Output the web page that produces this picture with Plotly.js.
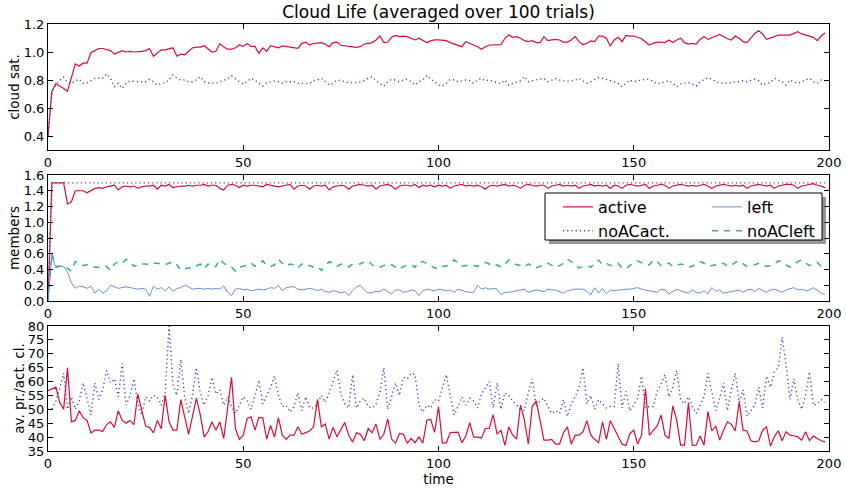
<!DOCTYPE html>
<html>
<head>
<meta charset="utf-8">
<script src="https://cdn.plot.ly/plotly-3.0.1.min.js"></script>
<style>html,body{margin:0;padding:0;background:#fff;}#chart{width:846px;height:489px;}</style>
</head>
<body>
<div id="chart"></div>
<script>
// ---- Data ----
const timeSteps = Array.from({length: 200}, (_, i) => i);

const cloudSatActive = [
0.40,0.72,0.775,0.76,0.74,0.72,0.82,0.915,0.90,0.92,
0.92,0.995,1.01,1.025,1.025,1.02,1.01,0.985,0.995,1.01,
1.00,1.005,1.00,1.00,1.005,1.01,1.025,0.97,0.995,1.015,
1.015,1.02,1.03,0.97,0.985,0.98,1.005,1.03,1.035,1.035,
1.045,1.02,1.00,1.005,1.06,1.035,1.02,1.02,1.03,1.05,
1.04,1.06,1.04,1.04,0.99,1.03,1.005,1.045,1.04,1.03,
1.043,1.038,1.036,1.031,1.026,1.062,1.071,1.05,1.062,1.064,
1.067,1.057,1.038,1.067,1.071,1.048,1.043,1.038,1.033,1.033,
1.038,1.057,1.062,1.067,1.086,1.114,1.067,1.071,1.105,1.119,
1.11,1.114,1.11,1.098,1.086,1.098,1.081,1.067,1.079,1.086,
1.086,1.086,1.081,1.067,1.057,1.048,1.038,1.074,1.062,1.052,
1.038,1.019,1.038,1.05,1.052,1.05,1.052,1.098,1.121,1.105,
1.11,1.098,1.081,1.074,1.081,1.067,1.067,1.11,1.081,1.086,
1.09,1.086,1.071,1.071,1.086,1.11,1.074,1.052,1.062,1.079,
1.074,1.114,1.114,1.098,1.043,1.086,1.105,1.074,1.119,1.114,
1.114,1.105,1.095,1.071,1.05,1.062,1.071,1.071,1.067,1.086,
1.067,1.086,1.098,1.067,1.057,1.062,1.057,1.09,1.11,1.09,
1.10,1.114,1.126,1.11,1.095,1.086,1.114,1.098,1.074,1.067,
1.098,1.133,1.152,1.129,1.09,1.098,1.11,1.121,1.121,1.121,
1.121,1.133,1.145,1.129,1.121,1.114,1.105,1.081,1.114,1.138];

const cloudSatNoAC = [
0.40,0.72,0.764,0.80,0.82,0.78,0.776,0.795,0.805,0.776,
0.78,0.795,0.812,0.812,0.812,0.843,0.812,0.752,0.776,0.74,
0.776,0.793,0.788,0.788,0.788,0.788,0.805,0.788,0.764,0.776,
0.78,0.80,0.836,0.812,0.80,0.80,0.788,0.788,0.80,0.824,
0.788,0.78,0.78,0.776,0.788,0.80,0.807,0.829,0.805,0.788,
0.771,0.788,0.812,0.80,0.776,0.757,0.78,0.788,0.793,0.788,
0.776,0.788,0.788,0.788,0.776,0.776,0.776,0.776,0.795,0.80,
0.812,0.788,0.764,0.776,0.80,0.795,0.788,0.781,0.781,0.781,
0.788,0.795,0.812,0.824,0.795,0.776,0.757,0.788,0.805,0.80,
0.788,0.80,0.805,0.788,0.764,0.788,0.80,0.833,0.805,0.788,
0.764,0.757,0.776,0.805,0.80,0.788,0.795,0.80,0.795,0.776,
0.80,0.812,0.795,0.80,0.788,0.781,0.776,0.80,0.764,0.776,
0.788,0.795,0.824,0.788,0.795,0.80,0.805,0.812,0.788,0.80,
0.81,0.80,0.795,0.79,0.795,0.80,0.812,0.797,0.776,0.788,
0.805,0.817,0.812,0.805,0.80,0.788,0.776,0.752,0.776,0.80,
0.788,0.795,0.80,0.805,0.805,0.788,0.771,0.781,0.788,0.795,
0.776,0.752,0.771,0.776,0.781,0.771,0.757,0.788,0.805,0.817,
0.805,0.788,0.776,0.781,0.776,0.781,0.788,0.788,0.795,0.788,
0.795,0.805,0.795,0.764,0.776,0.781,0.812,0.80,0.788,0.764,
0.80,0.788,0.776,0.788,0.80,0.812,0.788,0.776,0.80,0.795];

const membersActive = [
0,1.5,1.5,1.5,1.5,1.23,1.26,1.40,1.40,1.40,
1.375,1.40,1.43,1.44,1.43,1.45,1.46,1.47,1.41,1.45,
1.46,1.45,1.46,1.43,1.45,1.46,1.46,1.47,1.42,1.47,
1.46,1.48,1.44,1.45,1.46,1.46,1.47,1.46,1.47,1.47,
1.48,1.46,1.47,1.47,1.43,1.41,1.47,1.48,1.47,1.44,
1.47,1.46,1.47,1.47,1.46,1.45,1.48,1.47,1.46,1.45,
1.46,1.47,1.48,1.42,1.46,1.47,1.46,1.42,1.46,1.47,
1.46,1.47,1.41,1.45,1.46,1.47,1.46,1.42,1.46,1.47,
1.48,1.47,1.46,1.47,1.42,1.46,1.47,1.48,1.46,1.42,
1.46,1.47,1.47,1.46,1.48,1.44,1.47,1.46,1.47,1.45,
1.47,1.46,1.47,1.43,1.46,1.47,1.48,1.46,1.47,1.46,
1.47,1.45,1.42,1.46,1.47,1.46,1.47,1.48,1.46,1.47,
1.46,1.43,1.47,1.48,1.47,1.46,1.47,1.47,1.43,1.46,
1.47,1.48,1.46,1.47,1.46,1.47,1.43,1.46,1.47,1.48,
1.46,1.47,1.46,1.47,1.43,1.47,1.46,1.43,1.47,1.48,
1.47,1.46,1.47,1.48,1.43,1.46,1.47,1.48,1.47,1.43,
1.46,1.47,1.48,1.47,1.46,1.47,1.46,1.47,1.48,1.46,
1.43,1.46,1.47,1.48,1.47,1.46,1.47,1.46,1.47,1.43,
1.46,1.47,1.48,1.47,1.46,1.47,1.43,1.46,1.47,1.48,
1.48,1.47,1.43,1.46,1.47,1.48,1.49,1.47,1.46,1.44];

const membersNoACact = [
0,1.5,1.5,1.5,1.5,1.5,1.5,1.5,1.5,1.5,1.5,1.5,1.5,1.5,1.5,1.5,1.5,1.5,1.5,1.5,
1.5,1.5,1.5,1.5,1.5,1.5,1.5,1.5,1.5,1.5,1.5,1.5,1.5,1.5,1.5,1.5,1.5,1.5,1.5,1.5,
1.5,1.5,1.5,1.5,1.5,1.5,1.5,1.5,1.5,1.5,1.5,1.5,1.5,1.5,1.5,1.5,1.5,1.5,1.5,1.5,
1.5,1.5,1.5,1.5,1.5,1.5,1.5,1.5,1.5,1.5,1.5,1.5,1.5,1.5,1.5,1.5,1.5,1.5,1.5,1.5,
1.5,1.5,1.5,1.5,1.5,1.5,1.5,1.5,1.5,1.5,1.5,1.5,1.5,1.5,1.5,1.5,1.5,1.5,1.5,1.5,
1.5,1.5,1.5,1.5,1.5,1.5,1.5,1.5,1.5,1.5,1.5,1.5,1.5,1.5,1.5,1.5,1.5,1.5,1.5,1.5,
1.5,1.5,1.5,1.5,1.5,1.5,1.5,1.5,1.5,1.5,1.5,1.5,1.5,1.5,1.5,1.5,1.5,1.5,1.5,1.5,
1.5,1.5,1.5,1.5,1.5,1.5,1.5,1.5,1.5,1.5,1.5,1.5,1.5,1.5,1.5,1.5,1.5,1.5,1.5,1.5,
1.5,1.5,1.5,1.5,1.5,1.5,1.5,1.5,1.5,1.5,1.5,1.5,1.5,1.5,1.5,1.5,1.5,1.5,1.5,1.5,
1.5,1.5,1.5,1.5,1.5,1.5,1.5,1.5,1.5,1.5,1.5,1.5,1.5,1.5,1.5,1.5,1.5,1.5,1.5,1.5];

const membersLeft = [
0,0.58,0.42,0.44,0.44,0.37,0.23,0.16,0.19,0.18,
0.16,0.19,0.10,0.15,0.10,0.13,0.20,0.18,0.16,0.17,
0.18,0.17,0.16,0.15,0.16,0.15,0.06,0.19,0.15,0.17,
0.13,0.18,0.12,0.16,0.17,0.20,0.18,0.15,0.16,0.16,
0.15,0.16,0.15,0.16,0.15,0.19,0.11,0.07,0.15,0.16,
0.14,0.15,0.13,0.14,0.15,0.14,0.15,0.17,0.16,0.20,
0.13,0.17,0.18,0.18,0.15,0.14,0.15,0.16,0.15,0.13,
0.15,0.12,0.11,0.13,0.12,0.10,0.12,0.07,0.13,0.18,
0.20,0.14,0.10,0.11,0.12,0.12,0.15,0.12,0.09,0.14,
0.14,0.11,0.12,0.14,0.13,0.07,0.13,0.15,0.14,0.13,
0.15,0.14,0.13,0.14,0.11,0.15,0.13,0.12,0.11,0.11,
0.20,0.15,0.17,0.15,0.16,0.15,0.08,0.11,0.11,0.12,
0.13,0.14,0.15,0.11,0.13,0.14,0.13,0.12,0.15,0.14,
0.14,0.12,0.10,0.13,0.14,0.15,0.15,0.15,0.12,0.08,
0.17,0.10,0.16,0.09,0.14,0.13,0.14,0.14,0.15,0.15,
0.16,0.17,0.15,0.14,0.13,0.12,0.11,0.15,0.14,0.09,
0.12,0.15,0.13,0.11,0.10,0.14,0.11,0.10,0.13,0.09,
0.17,0.12,0.14,0.10,0.11,0.12,0.13,0.14,0.11,0.14,
0.15,0.12,0.16,0.13,0.11,0.14,0.15,0.13,0.11,0.14,
0.16,0.17,0.14,0.15,0.13,0.14,0.17,0.13,0.10,0.08];

const membersNoACleft = [
0,0.60,0.44,0.44,0.45,0.42,0.38,0.50,0.49,0.45,
0.46,0.44,0.43,0.43,0.44,0.44,0.39,0.47,0.50,0.48,
0.53,0.50,0.44,0.46,0.47,0.47,0.46,0.48,0.48,0.47,
0.46,0.48,0.50,0.46,0.39,0.41,0.42,0.42,0.44,0.47,
0.41,0.47,0.43,0.44,0.53,0.48,0.45,0.43,0.38,0.43,
0.44,0.46,0.48,0.44,0.47,0.51,0.45,0.44,0.46,0.53,
0.48,0.44,0.47,0.46,0.42,0.47,0.44,0.45,0.43,0.44,
0.39,0.45,0.50,0.48,0.44,0.47,0.45,0.43,0.47,0.47,
0.47,0.50,0.51,0.46,0.43,0.43,0.45,0.47,0.46,0.43,
0.40,0.44,0.45,0.46,0.43,0.50,0.50,0.48,0.45,0.42,
0.41,0.44,0.44,0.47,0.52,0.49,0.44,0.45,0.45,0.45,
0.44,0.46,0.49,0.47,0.44,0.46,0.43,0.47,0.52,0.49,
0.46,0.45,0.43,0.47,0.45,0.42,0.44,0.47,0.48,0.45,
0.43,0.45,0.48,0.53,0.50,0.45,0.42,0.44,0.45,0.43,
0.47,0.52,0.46,0.48,0.45,0.46,0.48,0.42,0.41,0.45,
0.49,0.51,0.49,0.46,0.46,0.52,0.50,0.45,0.46,0.48,
0.44,0.45,0.47,0.46,0.43,0.44,0.47,0.50,0.48,0.44,
0.45,0.46,0.47,0.48,0.44,0.45,0.49,0.51,0.47,0.44,
0.45,0.46,0.48,0.46,0.44,0.45,0.47,0.51,0.50,0.46,
0.43,0.46,0.50,0.52,0.48,0.45,0.47,0.49,0.44,0.43];

const avPrActive = [
56.7,57.5,58,52.5,50,65,45.5,46,49.5,47,
46,41.5,42.5,42.5,42,44.5,45.5,43.5,49.5,46,
45,46,44.5,55.5,50,44,43.5,41.5,46,43,
55,45.5,42.5,42.5,53.5,47,41,47.5,54,48,
40,42,45.5,42.5,45.5,39.5,50,61.5,43,39.2,
40.7,46.7,47.3,42.5,47.1,47,39.3,44.2,40,47,
40.7,39.2,40.7,40.7,43.7,41,41.6,42.2,43.7,53.6,
43.7,44.7,39.3,43.5,40.1,42.5,45.3,40.7,38.2,41.6,
41,38.7,43.1,41.6,44.7,39.2,41,46.6,39.3,37.8,
41.3,41,37.8,39.5,38,40.1,37.8,46.1,46.4,41.7,
51,37.8,38,41.6,41.6,41.8,38,40.4,45.2,40,
40,39.7,43.1,43.1,48.1,41.1,42.5,37,43.7,40.7,
39.3,51.5,46.1,37.5,51,53.1,46.1,38.9,38.9,39.2,
37.5,37.5,41.6,43.7,37.5,40.7,40.7,41.9,45.9,40.7,
39.2,38,45.5,39.2,45.9,43.1,40.7,37.5,37,41.3,
42.5,37.5,40.7,57.5,40.7,42.3,44,47.9,40.7,39.5,
51.3,46.1,37.1,37.1,52.4,37,37.1,40.4,37.1,49.2,
42.2,44,38.9,42.5,45.5,44.6,42.2,52.7,42.5,42.2,
38.7,38.3,38.7,42.5,43.7,36.8,40.1,42.3,38.7,41.9,
40.7,40.5,40.1,38.9,41.9,38.7,40.4,39.5,38.7,38.3];

const avPrNoAC = [
50,50,53,57.5,63,50,54.5,50,53,59.5,
54,48,59.5,53.5,57,64,59.5,61,54.5,66.5,
51.5,55,61,52,48,54.5,53,55,54.5,51.5,
56,80,59,55,68,54.5,48.5,55,65,56,
51.5,55,61.5,55.5,57,51.5,54.5,51,48.5,51.5,
54.5,53,50,55,60.5,52,55,58,62,55,
51,51.5,49,51,56,49.5,54.5,50.5,50.5,52,
55,52.5,56,60,64,55.5,52,50.5,62.5,50.5,
53,54,51,50.5,52,56,65,50,55,59.5,
55,61.5,61,63,62.5,51.5,49,51.5,50.5,53.5,
53,58,62.5,55,48,51,54.5,51.5,54,53,
50.5,55.5,58,60,50.5,59.5,50,56,55,53,
51.5,50,49.5,56,61,51,53,54,51,48.5,
49.5,48.5,53.5,47.5,52,54.5,58,65,52,55,
50,53.5,52,50.5,51,51,66.5,50.5,56.5,49.5,
51.5,54,62,50.5,51,51,56.5,59,62.5,54.5,
58,64,53.5,52,54.5,51,48.5,51.5,54.5,63,
56,49.5,54,59.5,49.5,57,63,52.5,57,47.5,
49.5,51.5,58,50.5,62,58,63.5,65,76,66,
53.5,61,53.5,50,55,63.5,51.5,52,53.5,52.5];

const seriesNames = ["active", "noACact.", "left", "noACleft"];
const xTicks = [0, 50, 100, 150, 200];
const titleText = "Cloud Life (averaged over 100 trials)";
const yTitles = ["cloud sat.", "members", "av. pr./act. cl."];
const xTitle = "time";

// ---- Styles ----
const cRed = "#d7102e", cPurple = "#5a32c8", cBlue = "#6b8dd6", cTeal = "#3ba8a0";
const font = "DejaVu Sans, Verdana, sans-serif";
const dotted = "1.2px,3px";

const traces = [
  {x: timeSteps, y: cloudSatActive, xaxis: "x", yaxis: "y", mode: "lines", showlegend: false,
   line: {color: cRed, width: 1.2}},
  {x: timeSteps, y: cloudSatNoAC, xaxis: "x", yaxis: "y", mode: "lines", showlegend: false,
   line: {color: cPurple, width: 1.4, dash: dotted}},

  {x: timeSteps, y: membersActive, xaxis: "x2", yaxis: "y2", mode: "lines", name: seriesNames[0], legend: "legend",
   line: {color: cRed, width: 1.2}},
  {x: timeSteps, y: membersNoACact, xaxis: "x2", yaxis: "y2", mode: "lines", name: seriesNames[1], legend: "legend",
   line: {color: cPurple, width: 1.4, dash: dotted}},
  {x: timeSteps, y: membersLeft, xaxis: "x2", yaxis: "y2", mode: "lines", name: seriesNames[2], legend: "legend2",
   line: {color: cBlue, width: 1}},
  {x: timeSteps, y: membersNoACleft, xaxis: "x2", yaxis: "y2", mode: "lines", name: seriesNames[3], legend: "legend2",
   line: {color: cTeal, width: 1.5, dash: "6px,6px"}},

  {x: timeSteps, y: avPrActive, xaxis: "x3", yaxis: "y3", mode: "lines", showlegend: false,
   line: {color: cRed, width: 1.2}},
  {x: timeSteps, y: avPrNoAC, xaxis: "x3", yaxis: "y3", mode: "lines", showlegend: false,
   line: {color: cPurple, width: 1.4, dash: dotted}}
];

const tickFont = {family: font, size: 13, color: "#000"};
function xAx(anchor, title) {
  const a = {anchor: anchor, range: [0, 200], tickvals: xTicks, ticks: "inside", ticklen: 5, tickwidth: 1,
    tickcolor: "#000", showline: true, linecolor: "#000", linewidth: 1, mirror: "ticks",
    showgrid: false, zeroline: false, tickfont: tickFont};
  if (title) a.title = {text: title, font: {family: font, size: 13.5, color: "#000"}, standoff: 2};
  return a;
}
function yAx(anchor, domain, range, dtick, fmt, title) {
  return {anchor: anchor, domain: domain, range: range, dtick: dtick, tick0: 0, tickformat: fmt,
    ticks: "inside", ticklen: 5, tickwidth: 1, tickcolor: "#000", showline: true, linecolor: "#000",
    linewidth: 1, mirror: "ticks", showgrid: false, zeroline: false, tickfont: tickFont,
    title: {text: title, font: {family: font, size: 13.5, color: "#000"}, standoff: 0}};
}

const H = 427; // plot span in px (24..451)
const d = (topPx, botPx) => [(451 - botPx) / H, (451 - topPx) / H];
const px = v => (v - 48) / 781;
const py = v => (451 - v) / H;

const layout = {
  width: 846, height: 489,
  margin: {l: 48, r: 17, t: 24, b: 38},
  paper_bgcolor: "#fff", plot_bgcolor: "#fff",
  font: {family: font, color: "#000"},
  title: {text: titleText, font: {family: font, size: 17, color: "#000"}, xref: "paper", x: 0.5, xanchor: "center", y: 0.975, yanchor: "middle"},
  xaxis: xAx("y"),
  yaxis: yAx("x", d(24, 150), [0.3, 1.2], 0.2, ".1f", yTitles[0]),
  xaxis2: xAx("y2"),
  yaxis2: yAx("x2", d(175, 301), [0, 1.6], 0.2, ".1f", yTitles[1]),
  xaxis3: xAx("y3", xTitle),
  yaxis3: yAx("x3", d(326, 451), [35, 80], 5, "d", yTitles[2]),
  legend: {x: px(558), y: py(190), xanchor: "left", yanchor: "top", bgcolor: "rgba(0,0,0,0)",
    borderwidth: 0, font: {family: font, size: 16, color: "#000"}, tracegroupgap: 0},
  legend2: {x: px(707), y: py(190), xanchor: "left", yanchor: "top", bgcolor: "rgba(0,0,0,0)",
    borderwidth: 0, font: {family: font, size: 16, color: "#000"}, tracegroupgap: 0},
  shapes: [
    {type: "rect", xref: "paper", yref: "paper", x0: px(549), x1: px(826), y0: py(244), y1: py(197),
     fillcolor: "rgba(80,80,80,0.6)", line: {width: 0}, layer: "above"},
    {type: "rect", xref: "paper", yref: "paper", x0: px(545), x1: px(822), y0: py(240), y1: py(193),
     fillcolor: "#fff", line: {color: "#000", width: 1}, layer: "above"}
  ]
};

Plotly.newPlot("chart", traces, layout, {displayModeBar: false, staticPlot: true});
</script>
</body>
</html>
